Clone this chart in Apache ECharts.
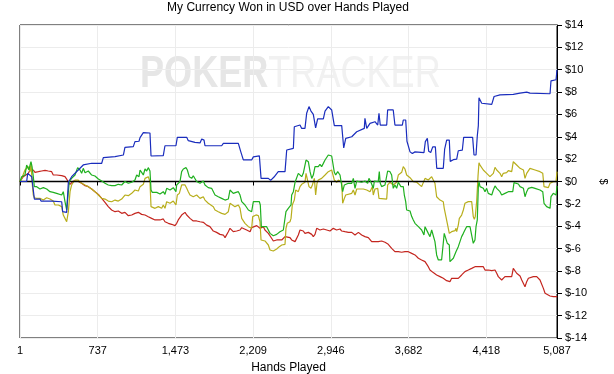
<!DOCTYPE html>
<html><head><meta charset="utf-8">
<script src="https://cdn.jsdelivr.net/npm/echarts@6/dist/echarts.min.js"></script>
<style>html,body{margin:0;padding:0;background:#fff}#c{width:614px;height:374px}</style>
</head><body><div id="c"></div><script>
const chartTitle = 'My Currency Won in USD over Hands Played';
const xAxisName = 'Hands Played';
const yAxisName = '$';
const xTickLabels = [1, 737, 1473, 2209, 2946, 3682, 4418, 5087];
const yTickValues = [-14, -12, -10, -8, -6, -4, -2, 0, 2, 4, 6, 8, 10, 12, 14];
const seriesNames = ['Series A', 'Series B', 'Series C', 'Series D'];

const redData = [[1,0],[32,0.43],[48,0.58],[80,0.73],[96,1.03],[112,1.18],[127,1.03],[143,0.82],[159,0.94],[175,0.88],[206,0.94],[222,0.82],[238,1.0],[269,0.94],[285,0.82],[301,0.88],[316,0.58],[332,0.43],[348,0.58],[364,0.64],[396,0.52],[411,0.58],[427,0.43],[443,0.22],[459,-0.07],[475,-0.25],[506,0.04],[522,-0.07],[553,0],[585,-0.16],[617,-0.37],[648,-0.46],[680,-0.67],[711,-0.91],[743,-1.15],[775,-1.51],[806,-1.87],[837,-2.25],[869,-2.55],[901,-2.7],[932,-2.64],[964,-2.85],[995,-2.76],[1027,-3.06],[1059,-3.0],[1090,-2.85],[1122,-2.76],[1153,-2.94],[1185,-3.0],[1216,-3.15],[1248,-3.3],[1280,-3.44],[1296,-3.3],[1327,-3.44],[1358,-3.35],[1374,-3.6],[1406,-3.74],[1437,-3.83],[1469,-3.95],[1485,-3.74],[1500,-3.44],[1516,-3.3],[1532,-3.0],[1564,-2.76],[1580,-3.0],[1595,-3.15],[1611,-3.3],[1627,-3.44],[1642,-3.53],[1674,-3.53],[1706,-3.6],[1737,-3.65],[1769,-3.9],[1800,-4.04],[1832,-4.43],[1863,-4.55],[1895,-4.73],[1927,-4.79],[1943,-5.02],[1958,-4.93],[1974,-4.49],[1990,-4.19],[2006,-4.34],[2021,-4.49],[2053,-4.43],[2085,-4.34],[2101,-4.13],[2116,-4.25],[2148,-4.34],[2164,-4.25],[2180,-4.49],[2195,-4.13],[2211,-4.04],[2243,-3.95],[2258,-4.04],[2274,-4.19],[2306,-4.04],[2321,-4.34],[2337,-4.49],[2353,-4.64],[2369,-4.79],[2384,-5.08],[2400,-5.32],[2432,-5.23],[2447,-5.38],[2480,-5.23],[2495,-5.14],[2511,-4.93],[2558,-5.02],[2574,-5.23],[2606,-5.38],[2637,-4.79],[2653,-4.34],[2684,-4.43],[2700,-4.64],[2732,-4.55],[2764,-4.73],[2779,-4.93],[2795,-4.73],[2811,-4.19],[2826,-4.13],[2842,-4.34],[2874,-4.25],[2890,-4.13],[2906,-4.34],[2937,-4.43],[2968,-4.19],[2984,-4.13],[3000,-4.34],[3032,-4.25],[3048,-4.43],[3079,-4.49],[3111,-4.55],[3143,-4.55],[3174,-4.79],[3206,-4.55],[3237,-4.79],[3268,-4.93],[3300,-5.02],[3316,-5.08],[3332,-5.38],[3363,-5.38],[3379,-5.23],[3394,-5.38],[3426,-5.32],[3458,-5.44],[3489,-5.62],[3521,-5.98],[3552,-6.28],[3568,-6.13],[3584,-6.28],[3616,-6.33],[3647,-6.28],[3663,-6.13],[3679,-6.28],[3711,-6.43],[3742,-6.57],[3774,-6.87],[3805,-7.02],[3837,-7.17],[3853,-7.32],[3868,-7.62],[3884,-7.92],[3915,-8.15],[3947,-8.36],[3979,-8.51],[4010,-8.66],[4042,-8.87],[4057,-8.81],[4073,-8.96],[4089,-8.66],[4105,-8.81],[4121,-8.66],[4137,-8.51],[4152,-8.66],[4168,-8.51],[4184,-8.36],[4200,-8.21],[4215,-8.06],[4231,-8.21],[4247,-7.92],[4263,-8.06],[4279,-7.77],[4294,-7.92],[4310,-7.62],[4326,-7.47],[4342,-7.62],[4358,-7.47],[4389,-7.62],[4405,-7.92],[4421,-7.77],[4436,-7.92],[4452,-7.77],[4469,-7.98],[4484,-8.06],[4500,-7.92],[4516,-8.21],[4531,-8.51],[4547,-8.66],[4563,-8.81],[4578,-8.66],[4594,-8.51],[4610,-8.66],[4626,-8.51],[4642,-8.66],[4658,-8.51],[4673,-7.77],[4690,-7.92],[4705,-8.21],[4721,-8.36],[4737,-8.45],[4753,-8.81],[4769,-8.96],[4784,-9.41],[4800,-8.96],[4816,-8.66],[4831,-8.51],[4863,-8.51],[4879,-8.36],[4895,-8.51],[4911,-8.66],[4926,-8.81],[4942,-8.96],[4958,-9.56],[4974,-10.0],[4989,-10.15],[5021,-10.24],[5036,-10.15],[5052,-10.3],[5084,-10.3],[5087,-10.36]];

const yellowData = [[1,0],[17,0.28],[32,0.43],[48,1.03],[64,0.94],[80,1.33],[96,0.88],[105,1.62],[118,-0.31],[127,-1.21],[137,-1.45],[159,-1.51],[190,-1.51],[222,-1.66],[254,-1.45],[285,-1.57],[316,-1.75],[332,-2.1],[348,-2.25],[364,-2.1],[396,-2.25],[411,-3.0],[427,-3.3],[443,-3.6],[452,-3.45],[459,-2.7],[475,-0.91],[490,-0.31],[506,-0.07],[522,0.13],[538,0.28],[553,0.13],[569,-0.07],[585,-0.16],[617,-0.31],[648,-0.46],[664,-0.31],[680,-0.67],[711,-0.91],[743,-1.21],[775,-1.51],[806,-1.57],[837,-1.75],[869,-1.81],[901,-1.66],[932,-1.75],[964,-1.57],[980,-1.66],[995,-1.21],[1027,-1.27],[1059,-1.06],[1090,-0.76],[1122,-0.85],[1138,-0.46],[1153,-0.37],[1169,-0.25],[1185,0.28],[1201,0.13],[1216,0.43],[1232,-0.01],[1242,-2.25],[1280,-2.4],[1311,-2.25],[1343,-2.4],[1358,-2.1],[1374,-2.4],[1390,-1.81],[1422,-1.95],[1453,-1.75],[1478,-2.1],[1491,-1.21],[1510,-1.06],[1532,-0.31],[1548,-0.16],[1564,-0.31],[1580,-0.61],[1595,-0.91],[1611,-1.21],[1642,-1.36],[1674,-1.21],[1706,-1.51],[1737,-1.36],[1753,-1.66],[1784,-1.95],[1800,-2.1],[1832,-2.25],[1848,-2.55],[1879,-2.7],[1911,-2.85],[1943,-2.94],[1974,-2.7],[1990,-1.95],[2006,-2.1],[2037,-2.25],[2069,-2.1],[2085,-2.4],[2101,-3.3],[2132,-3.74],[2164,-4.04],[2195,-4.19],[2205,-3.14],[2236,-2.99],[2258,-3.05],[2274,-3.6],[2284,-5.23],[2321,-5.32],[2337,-5.38],[2353,-5.68],[2369,-6.13],[2400,-6.22],[2432,-6.04],[2457,-5.83],[2480,-5.68],[2511,-5.62],[2520,-4.19],[2532,-3.74],[2558,-3.6],[2568,-3.3],[2580,-2.1],[2599,-1.66],[2612,-0.76],[2637,-0.91],[2653,-0.46],[2669,-0.25],[2700,-0.07],[2710,0.73],[2726,0.58],[2738,-0.46],[2757,-0.61],[2770,-0.31],[2789,0.28],[2801,-1.21],[2814,-0.16],[2826,0.13],[2858,0.28],[2890,0.58],[2921,0.88],[2953,1.03],[2968,1.18],[2978,0.13],[3000,-0.07],[3016,0.13],[3048,-0.07],[3057,-1.95],[3073,-1.51],[3086,-1.21],[3143,-1.06],[3158,-0.76],[3174,-1.21],[3190,-0.67],[3253,-0.67],[3285,-0.76],[3300,-0.61],[3316,-0.91],[3338,-0.46],[3347,-1.21],[3363,-0.67],[3389,-0.61],[3401,-1.51],[3474,-1.57],[3483,-0.31],[3505,-0.07],[3521,0.04],[3536,-0.31],[3552,-0.46],[3568,-0.07],[3584,0.58],[3616,0.82],[3631,1.33],[3647,1.12],[3663,0.58],[3695,0.34],[3726,-0.01],[3758,-0.07],[3774,0],[3805,-0.46],[3837,0.28],[3853,0.43],[3868,0.13],[3884,-0.01],[3900,0.43],[3915,0.28],[3931,-0.16],[3947,-1.36],[3963,-1.51],[3979,-1.66],[4010,-1.81],[4019,-2.4],[4035,-3.14],[4048,-3.74],[4057,-3.9],[4067,-4.64],[4080,-4.78],[4089,-4.49],[4105,-4.64],[4121,-4.4],[4130,-4.19],[4137,-4.49],[4152,-3.9],[4162,-3.3],[4184,-3.0],[4200,-2.55],[4215,-1.95],[4247,-1.8],[4263,-1.95],[4279,-1.8],[4294,-3.14],[4304,-3.38],[4313,-3.14],[4326,-1.8],[4339,0.5],[4348,1.68],[4358,1.47],[4374,1.33],[4389,1.03],[4405,0.88],[4421,0.73],[4436,0.58],[4452,0.43],[4469,0.58],[4484,0.73],[4500,1.27],[4516,1.03],[4547,0.73],[4563,0.43],[4578,0.73],[4610,0.79],[4626,0.97],[4658,0.88],[4673,1.77],[4705,1.48],[4737,1.18],[4769,1.03],[4784,0.28],[4800,0.73],[4831,1.18],[4848,1.27],[4879,1.03],[4926,0.88],[4952,0.73],[4964,-0.46],[5005,-0.55],[5021,-0.16],[5052,-0.01],[5078,-0.01],[5087,0.88]];

const greenData = [[1,0],[17,0.43],[32,0.28],[48,0.58],[64,1.47],[74,1.62],[86,1.03],[96,1.47],[105,1.77],[115,1.33],[127,0.43],[137,-0.46],[159,-0.46],[190,-0.67],[222,-0.55],[254,-0.67],[285,-0.91],[316,-0.97],[348,-1.06],[364,-1.21],[396,-1.21],[411,-0.91],[427,-1.8],[443,-2.55],[459,-2.55],[468,0],[490,0.28],[522,0.58],[547,1.24],[569,1.03],[585,0.73],[600,1.18],[617,0.79],[648,0.94],[680,0.58],[711,0.49],[743,0.22],[775,0.04],[806,-0.16],[837,-0.31],[869,-0.37],[901,-0.37],[932,-0.25],[964,-0.31],[980,-0.16],[995,0],[1027,-0.16],[1059,-0.07],[1090,0.13],[1106,0.58],[1128,0.43],[1138,1.03],[1153,0.82],[1169,0.58],[1185,1.12],[1201,0.94],[1216,1.24],[1232,0.94],[1242,-0.76],[1254,-0.97],[1264,-1.06],[1296,-0.97],[1327,-1.12],[1358,-0.91],[1374,-1.15],[1390,-0.61],[1422,-0.76],[1453,-0.55],[1478,-0.91],[1485,-0.31],[1516,-0.01],[1532,0.88],[1548,1.12],[1573,1.24],[1586,1.03],[1604,0.43],[1627,0.28],[1642,0.52],[1674,0],[1706,-0.16],[1737,0.04],[1753,-0.31],[1784,-0.55],[1816,-0.61],[1848,-1.21],[1879,-1.36],[1911,-1.51],[1943,-1.66],[1974,-1.57],[1990,-0.76],[2006,-0.91],[2021,-1.06],[2047,-0.97],[2069,-0.91],[2085,-1.21],[2101,-1.8],[2132,-2.1],[2164,-2.55],[2195,-2.7],[2211,-1.8],[2268,-1.8],[2277,-2.1],[2287,-4.04],[2337,-4.04],[2353,-4.19],[2369,-4.64],[2400,-4.85],[2432,-4.73],[2463,-4.49],[2495,-4.34],[2511,-4.25],[2520,-2.7],[2527,-2.55],[2542,-2.4],[2568,-2.1],[2574,-1.21],[2590,-0.91],[2606,-0.07],[2622,-0.16],[2637,0.73],[2653,0.82],[2669,0.43],[2684,0.73],[2700,0.58],[2710,1.92],[2732,1.77],[2748,0.88],[2764,0.28],[2779,0.58],[2795,1.33],[2811,1.48],[2826,1.33],[2842,1.53],[2858,1.33],[2874,1.62],[2890,1.92],[2906,2.07],[2921,2.37],[2953,2.28],[2968,2.22],[2978,0.82],[2991,0.58],[3010,0.88],[3032,0.58],[3048,0.73],[3057,-0.91],[3073,-0.31],[3111,-0.16],[3127,0],[3143,-0.16],[3158,0.28],[3174,-0.61],[3190,0.04],[3237,-0.07],[3268,0.04],[3294,-0.16],[3306,0.28],[3325,-0.07],[3347,-0.61],[3357,0.04],[3394,-0.01],[3404,0.88],[3413,-0.16],[3426,-0.46],[3458,-0.31],[3474,-0.37],[3483,0.94],[3505,0.88],[3521,0.58],[3536,-0.61],[3552,-0.31],[3568,-0.61],[3584,-0.07],[3609,-0.46],[3631,-0.46],[3641,-1.21],[3654,-1.8],[3663,-2.55],[3695,-2.64],[3711,-3.14],[3726,-3.44],[3742,-3.74],[3774,-4.04],[3805,-4.34],[3827,-4.78],[3837,-4.04],[3853,-3.9],[3868,-4.64],[3884,-4.93],[3900,-4.34],[3915,-4.49],[3931,-5.38],[3947,-6.57],[3963,-7.02],[3994,-7.02],[4010,-6.87],[4019,-4.64],[4035,-4.78],[4048,-5.53],[4067,-5.68],[4073,-7.17],[4105,-6.87],[4121,-6.72],[4130,-6.28],[4137,-6.43],[4152,-5.83],[4168,-5.38],[4184,-4.93],[4200,-4.64],[4215,-4.34],[4231,-4.04],[4247,-4.19],[4263,-4.04],[4279,-4.19],[4294,-5.53],[4310,-5.23],[4320,-4.04],[4332,-3.44],[4342,-0.46],[4348,0],[4358,-0.46],[4374,-0.31],[4389,-0.61],[4405,-0.91],[4421,-0.61],[4436,-1.06],[4452,-0.91],[4469,-1.21],[4484,-0.76],[4500,-0.4],[4516,-0.61],[4547,-0.91],[4563,-1.21],[4594,-1.06],[4626,-0.91],[4642,-1.0],[4668,-0.91],[4680,-0.1],[4690,-0.22],[4721,-0.22],[4737,-0.46],[4769,-0.61],[4784,-1.36],[4800,-0.91],[4816,-0.61],[4848,-0.52],[4879,-0.61],[4895,-0.76],[4926,-0.76],[4952,-0.91],[4964,-1.95],[4989,-2.25],[5021,-2.4],[5030,-1.36],[5052,-1.06],[5078,-1.21],[5087,-0.4]];

const blueData = [[1,0],[64,0],[74,0.73],[112,0.43],[127,0.58],[137,-1.57],[190,-1.57],[200,-1.75],[301,-1.75],[396,-1.81],[405,-2.7],[443,-2.76],[459,-0.07],[490,0.43],[553,1.03],[600,1.48],[680,1.63],[775,1.63],[790,2.13],[901,2.22],[980,2.37],[995,3.06],[1074,3.12],[1090,3.57],[1128,3.6],[1138,3.93],[1169,4.37],[1232,4.34],[1242,2.28],[1358,2.31],[1374,3.2],[1478,3.2],[1491,3.95],[1580,3.95],[1595,3.65],[1658,3.5],[1706,3.45],[1722,3.8],[1744,3.7],[1753,3.2],[1911,3.2],[1927,3.41],[2069,3.41],[2091,2.7],[2116,1.93],[2195,1.93],[2211,2.2],[2268,2.3],[2284,0.28],[2353,0.28],[2375,0.1],[2407,0.4],[2447,0.88],[2511,0.88],[2527,2.82],[2542,2.97],[2590,2.97],[2599,4.9],[2653,5.05],[2669,4.75],[2700,4.75],[2716,6.1],[2738,6.7],[2757,6.3],[2779,6.0],[2801,4.8],[2820,5.6],[2874,5.6],[2890,6.3],[2921,6.7],[2953,6.4],[2978,5.0],[3048,5.0],[3067,3.0],[3086,3.86],[3143,4.0],[3158,4.15],[3190,4.45],[3262,4.75],[3268,5.65],[3285,4.75],[3316,5.2],[3363,5.35],[3389,5.05],[3401,6.1],[3413,5.05],[3474,5.05],[3483,6.4],[3536,6.4],[3552,5.05],[3622,5.05],[3631,5.5],[3654,5.5],[3666,3.6],[3695,2.65],[3717,2.5],[3742,2.65],[3827,2.58],[3840,3.57],[3859,3.86],[3872,2.7],[3891,2.6],[3910,3.1],[3935,3.1],[3948,1.18],[4010,1.18],[4023,2.9],[4042,3.7],[4067,3.7],[4076,1.8],[4105,1.95],[4137,2.0],[4152,2.75],[4190,2.8],[4203,3.95],[4288,3.95],[4301,2.37],[4320,2.37],[4332,4.07],[4342,5.0],[4348,7.5],[4374,7.0],[4469,6.9],[4491,7.6],[4547,7.75],[4673,7.8],[4737,7.9],[4800,8.0],[4831,7.9],[5021,7.85],[5030,9.0],[5078,9.1],[5087,10.0]];

const seriesColors = ['#c4261f', '#b8ae1c', '#1fb01f', '#1a2dbd'];
const allData = [redData, yellowData, greenData, blueData];

function fmtHands(v) {
  let best = xTickLabels[0];
  for (const t of xTickLabels) if (Math.abs(t - v) < Math.abs(best - v)) best = t;
  return best.toLocaleString('en-US');
}

const chart = echarts.init(document.getElementById('c'), null, {renderer: 'canvas'});
const font = 'Liberation Sans';
chart.setOption({
  animation: false,
  backgroundColor: '#ffffff',
  title: {
    text: chartTitle, left: 288, top: 2, padding: 0, textAlign: 'center',
    textStyle: {fontSize: 12, fontWeight: 'normal', color: '#000', fontFamily: font}
  },
  grid: {left: 20, right: 57, top: 25, bottom: 36, show: true, borderColor: '#000', borderWidth: 1, containLabel: false, outerBoundsMode: 'none'},
  graphic: [{
    type: 'text', left: 140, top: 53, z: 0, silent: true, scaleX: 0.82,
    style: {
      text: '{a|POKER}{b|TRACKER}',
      rich: {
        a: {fontSize: 44, fontWeight: 'bold', fill: '#e6e6e6', fontFamily: font},
        b: {fontSize: 44, fontWeight: 'normal', fill: '#f1f1f1', fontFamily: font}
      }
    }
  }],
  xAxis: {
    type: 'value', min: xTickLabels[0], max: xTickLabels[xTickLabels.length - 1], interval: 736,
    name: xAxisName, nameLocation: 'middle', nameGap: 24,
    nameTextStyle: {fontSize: 12, color: '#000', fontFamily: font},
    axisLine: {show: true, lineStyle: {color: '#000', width: 1}},
    axisTick: {show: true, length: 4, lineStyle: {color: '#000'}},
    axisLabel: {show: true, margin: 7, fontSize: 11, color: '#000', fontFamily: font, showMinLabel: true, showMaxLabel: true, formatter: fmtHands},
    splitLine: {show: true, lineStyle: {color: '#ececec', width: 1}}
  },
  yAxis: {
    type: 'value', position: 'right', min: yTickValues[0], max: yTickValues[yTickValues.length - 1], interval: 2,
    name: yAxisName, nameLocation: 'middle', nameGap: 36, nameRotate: -90,
    nameTextStyle: {fontSize: 11, color: '#000', fontFamily: font},
    axisLine: {show: true, lineStyle: {color: '#000', width: 1}},
    axisTick: {show: true, length: 5, lineStyle: {color: '#000'}},
    axisLabel: {margin: 8, fontSize: 11, color: '#000', fontFamily: font, formatter: v => '$' + v},
    splitLine: {show: true, lineStyle: {color: '#ececec', width: 1}}
  },
  series: allData.map((d, i) => ({
    name: seriesNames[i], type: 'line', data: d, showSymbol: false, symbol: 'none',
    lineStyle: {color: seriesColors[i], width: 1.2}, z: 3 + i,
    markLine: i === 0 ? {
      silent: true, symbol: 'none', label: {show: false},
      lineStyle: {color: '#000', width: 1.3, type: 'solid'},
      data: [{yAxis: 0}]
    } : undefined
  }))
});
</script></body></html>
